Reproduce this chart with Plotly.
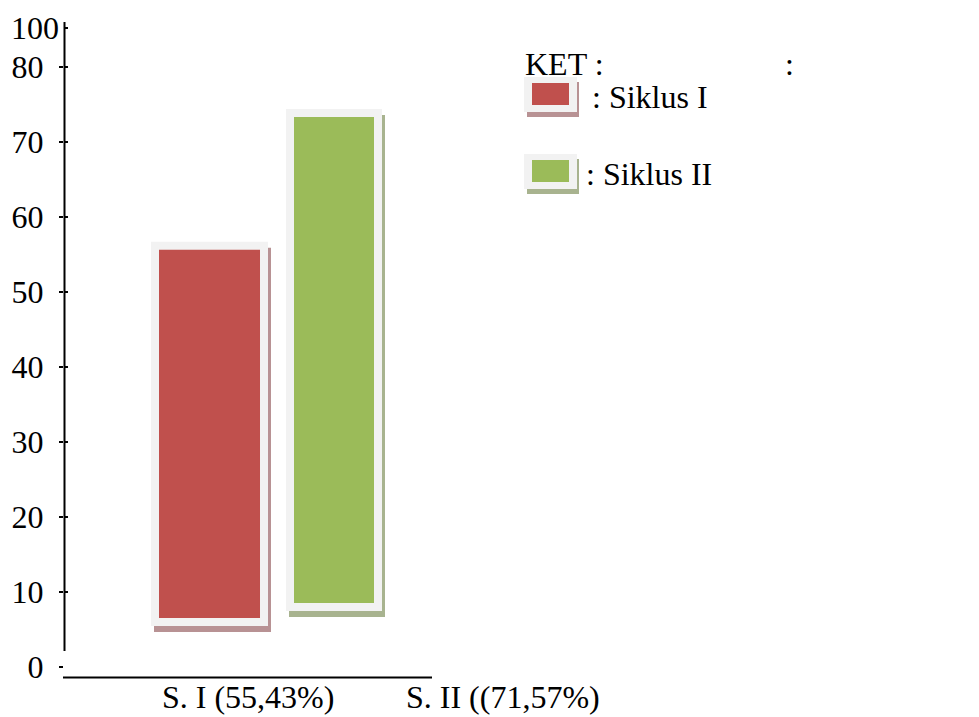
import plotly.graph_objects as go

# ---------------- data ----------------
categories = ["S. I (55,43%)", "S. II ((71,57%)"]
bar_tops = [55.6, 73.3]          # top of each drawn bar (axis units)
bar_bases = [6.5, 8.5]           # bars float above zero in the original
series_names = ["Siklus I", "Siklus II"]
y_tick_values = [0, 10, 20, 30, 40, 50, 60, 70, 80]
y_tick_labels = ["0", "10", "20", "30", "40", "50", "60", "70", "80"]
top_tick_value = 85.1
top_tick_label = "100"
legend_title = "KET :"

# ---------------- styling / layout ----------------
OFF = 8                      # page body margin
W, H = 979 - OFF, 717 - OFF
REF_L, REF_R, REF_T, REF_B = 64, 964, 22, 677   # plot area in window pixels
ML, MT = REF_L - OFF, REF_T - OFF
MR, MB = W - (REF_R - OFF), H - (REF_B - OFF)
PW, PH = REF_R - REF_L, REF_B - REF_T
ZERO_PX, PX_PER_UNIT = 666.7, 7.5
FONT = "Liberation Serif"
FS = 32

fill_colors = ["#c0504d", "#9bbb59"]
shadow_colors = ["#b89294", "#a8b38f"]
frame_color = "#f2f2f2"

def yval(py):
    return (ZERO_PX - py) / PX_PER_UNIT

def px_x(px):
    return (px - REF_L) / PW

def px_y(py):
    return (REF_B - py) / PH

y_lo, y_hi = yval(REF_B), yval(REF_T)

bar_centers = [209.5 - REF_L, 334 - REF_L]
bar_widths = [101, 80]
label_centers = [248 - REF_L, 503 - REF_L]
pad_px = 8
pad_val = pad_px / PX_PER_UNIT
shadow_dx, shadow_dy = 3, 6 / PX_PER_UNIT

heights = [t - b for t, b in zip(bar_tops, bar_bases)]

fig = go.Figure()
# shadows
fig.add_trace(go.Bar(
    x=[c + shadow_dx for c in bar_centers],
    y=[h + 2 * pad_val for h in heights],
    base=[b - pad_val - shadow_dy for b in bar_bases],
    width=[w + 2 * pad_px for w in bar_widths],
    marker=dict(color=shadow_colors, line=dict(width=0)),
    showlegend=False, hoverinfo="skip"))
# light frames
fig.add_trace(go.Bar(
    x=bar_centers,
    y=[h + 2 * pad_val for h in heights],
    base=[b - pad_val for b in bar_bases],
    width=[w + 2 * pad_px for w in bar_widths],
    marker=dict(color=frame_color, line=dict(width=0)),
    showlegend=False, hoverinfo="skip"))
# fills
fig.add_trace(go.Bar(
    x=bar_centers, y=heights, base=bar_bases, width=bar_widths,
    marker=dict(color=fill_colors, line=dict(width=0)),
    text=categories, textposition="none",
    showlegend=False))

shapes = []
# y axis line (does not reach the x axis)
shapes.append(dict(type="line", xref="paper", yref="paper",
                   x0=px_x(64.5), x1=px_x(64.5), y0=px_y(651), y1=px_y(22),
                   line=dict(color="black", width=2)))
# x axis line
shapes.append(dict(type="line", xref="paper", yref="paper",
                   x0=px_x(63), x1=px_x(432), y0=px_y(677.5), y1=px_y(677.5),
                   line=dict(color="black", width=2)))

# legend swatches
legend_rows = [(77, 112), (154, 189)]
annotations = []
for i, (ftop, fbot) in enumerate(legend_rows):
    shapes.append(dict(type="rect", xref="paper", yref="paper",
                       x0=px_x(527), x1=px_x(579), y0=px_y(fbot + 5), y1=px_y(ftop + 5),
                       fillcolor=shadow_colors[i], line=dict(width=0)))
    shapes.append(dict(type="rect", xref="paper", yref="paper",
                       x0=px_x(524), x1=px_x(577), y0=px_y(fbot), y1=px_y(ftop),
                       fillcolor=frame_color, line=dict(width=0)))
    shapes.append(dict(type="rect", xref="paper", yref="paper",
                       x0=px_x(532), x1=px_x(569), y0=px_y(fbot - 7), y1=px_y(ftop + 6),
                       fillcolor=fill_colors[i], line=dict(width=0)))
    annotations.append(dict(xref="paper", yref="paper",
                            x=px_x(590 if i == 0 else 584), y=px_y((ftop + fbot) / 2 + 2),
                            xanchor="left", yanchor="middle", showarrow=False,
                            text=": " + series_names[i],
                            font=dict(family=FONT, size=FS, color="black")))

annotations.append(dict(xref="paper", yref="paper", x=px_x(523), y=px_y(64),
                        xanchor="left", yanchor="middle", showarrow=False,
                        text=legend_title, font=dict(family=FONT, size=FS, color="black")))
annotations.append(dict(xref="paper", yref="paper", x=px_x(783), y=px_y(64),
                        xanchor="left", yanchor="middle", showarrow=False,
                        text=":", font=dict(family=FONT, size=FS, color="black")))
annotations.append(dict(xref="paper", yref="paper", x=px_x(61), y=px_y(28),
                        xanchor="right", yanchor="middle", showarrow=False,
                        text=top_tick_label, font=dict(family=FONT, size=FS, color="black")))
# category labels under the axis
for cat, cx in zip(categories, label_centers):
    annotations.append(dict(xref="x", yref="paper", x=cx, y=px_y(697),
                            xanchor="center", yanchor="middle", showarrow=False,
                            text=cat, font=dict(family=FONT, size=FS, color="black")))

fig.update_layout(
    width=W, height=H,
    margin=dict(l=ML, r=MR, t=MT, b=MB, pad=0),
    paper_bgcolor="white", plot_bgcolor="white",
    barmode="overlay",
    showlegend=False,
    shapes=shapes,
    annotations=annotations,
    xaxis=dict(range=[0, PW], showgrid=False, zeroline=False, showline=False,
               showticklabels=False, ticks="", automargin=False, fixedrange=True),
    yaxis=dict(range=[y_lo, y_hi], showgrid=False, zeroline=False, showline=False,
               tickmode="array", tickvals=y_tick_values, ticktext=y_tick_labels,
               ticks="outside", ticklen=4, tickwidth=2, tickcolor="black",
               ticklabelstandoff=9, automargin=False,
               tickfont=dict(family=FONT, size=FS, color="black"),
               fixedrange=True),
    yaxis2=dict(range=[y_lo, y_hi], overlaying="y", side="left", anchor="x",
                showgrid=False, zeroline=False, showline=False,
                tickmode="array", tickvals=y_tick_values[1:] + [top_tick_value],
                showticklabels=False, automargin=False,
                ticks="inside", ticklen=4, tickwidth=2, tickcolor="black",
                fixedrange=True),
)
# invisible trace to activate the second y axis (carries the tick positions)
fig.add_trace(go.Scatter(x=[None], y=[None], yaxis="y2", showlegend=False,
                         hoverinfo="skip"))

fig.write_html("out.html")
